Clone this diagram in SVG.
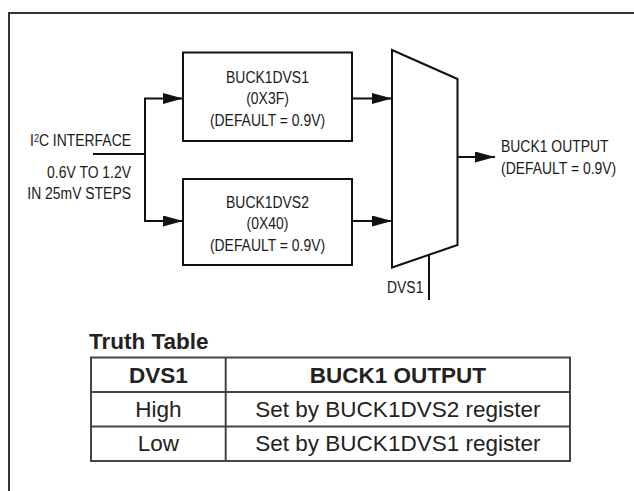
<svg xmlns="http://www.w3.org/2000/svg" width="634" height="491" viewBox="0 0 634 491">
<style>
.t{font-family:"Liberation Sans",Arial,sans-serif;font-size:17px;fill:#1a1a1a}
.c{text-anchor:middle}
.e{text-anchor:end}
.box{fill:#fff;stroke:#111;stroke-width:2}
.ln{fill:none;stroke:#111;stroke-width:2}
.tb{font-family:"Liberation Sans",Arial,sans-serif;font-size:22.5px;fill:#222}
.b{font-weight:bold}
.grid{fill:none;stroke:#444;stroke-width:2}
</style>
<defs>
<marker id="ah" markerUnits="userSpaceOnUse" markerWidth="20" markerHeight="11" refX="20" refY="5.5" orient="auto">
<path d="M0,0 L20,5.5 L0,11 z" fill="#111"/>
</marker>
</defs>
<rect width="634" height="491" fill="#fff"/>
<path d="M9,491 V13 H634" fill="none" stroke="#333" stroke-width="2"/>

<g id="connectors">
<path class="ln" d="M93,154 H145"/>
<path class="ln" d="M145,154 V98.5 H183" marker-end="url(#ah)"/>
<path class="ln" d="M145,154 V221 H183" marker-end="url(#ah)"/>
<path class="ln" d="M352,98.5 H392" marker-end="url(#ah)"/>
<path class="ln" d="M352,221 H392" marker-end="url(#ah)"/>
<path class="ln" d="M457.5,157 H495" marker-end="url(#ah)"/>
<path class="ln" d="M429,255 V300"/>
</g>

<g id="input">
<text class="t e" transform="translate(131,146) scale(0.82,1)">I<tspan font-size="11" dy="-4.5">2</tspan><tspan dy="4.5">C INTERFACE</tspan></text>
<text class="t e" transform="translate(131,177.5) scale(0.82,1)">0.6V TO 1.2V</text>
<text class="t e" transform="translate(131,198.5) scale(0.82,1)">IN 25mV STEPS</text>
</g>

<g id="buck1dvs1">
<rect class="box" x="183" y="52.5" width="169" height="88.5"/>
<text class="t c" transform="translate(267.5,82.5) scale(0.82,1)">BUCK1DVS1</text>
<text class="t c" transform="translate(267.5,104) scale(0.82,1)">(0X3F)</text>
<text class="t c" transform="translate(267.5,125.5) scale(0.82,1)">(DEFAULT = 0.9V)</text>
</g>

<g id="buck1dvs2">
<rect class="box" x="183" y="179" width="169" height="86"/>
<text class="t c" transform="translate(267.5,207.5) scale(0.82,1)">BUCK1DVS2</text>
<text class="t c" transform="translate(267.5,229) scale(0.82,1)">(0X40)</text>
<text class="t c" transform="translate(267.5,250.5) scale(0.82,1)">(DEFAULT = 0.9V)</text>
</g>

<g id="mux">
<path class="box" d="M392,50 L457.5,79 V245 L392,267.5 z"/>
<text class="t" transform="translate(387,293) scale(0.82,1)">DVS1</text>
</g>

<g id="output">
<text class="t" transform="translate(501,152) scale(0.82,1)">BUCK1 OUTPUT</text>
<text class="t" transform="translate(501,173.5) scale(0.82,1)">(DEFAULT = 0.9V)</text>
</g>

<g id="truth-table">
<text class="tb b" x="89" y="348.5">Truth Table</text>
<rect class="grid" x="91" y="357.5" width="479" height="103.5"/>
<path class="grid" d="M91,392 H570 M91,426.5 H570 M225.7,357.5 V461"/>
<text class="tb b c" x="158.3" y="383">DVS1</text>
<text class="tb b c" x="397.9" y="383">BUCK1 OUTPUT</text>
<text class="tb c" x="158.3" y="416.5">High</text>
<text class="tb c" x="397.9" y="416.5">Set by BUCK1DVS2 register</text>
<text class="tb c" x="158.3" y="451">Low</text>
<text class="tb c" x="397.9" y="451">Set by BUCK1DVS1 register</text>
</g>
</svg>
